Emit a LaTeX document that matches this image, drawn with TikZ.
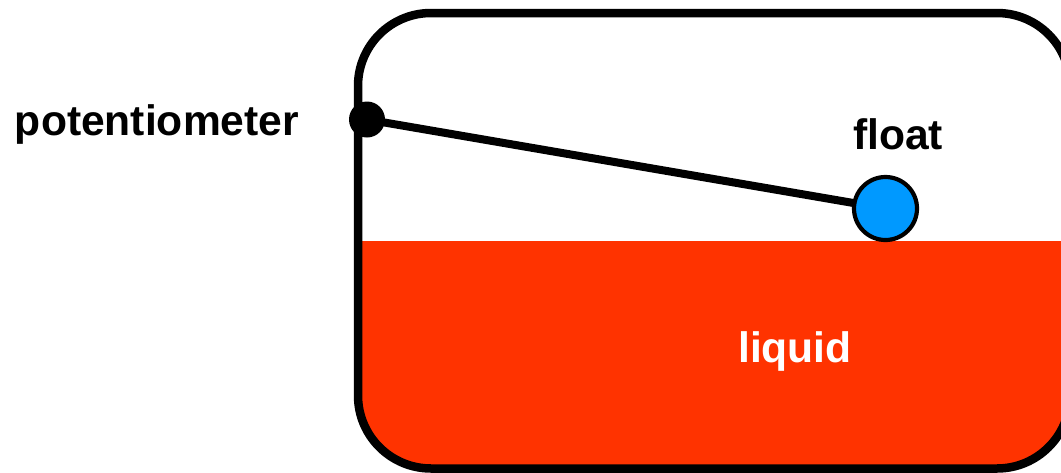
\documentclass[tikz,border=0pt]{standalone}
\usepackage{fontspec}
\setmainfont{Liberation Sans}
\definecolor{liquidred}{HTML}{FF3300}
\definecolor{floatblue}{HTML}{0099FF}
\tikzset{
  lbl/.style={inner sep=0pt,anchor=base,font=\fontsize{42.6}{48}\selectfont\bfseries},
  tankline/.style={draw=black,line width=8.5pt},
}
\begin{document}
\begin{tikzpicture}[x=1pt,y=-1pt]
\useasboundingbox (0,0) rectangle (1061,472);
\begin{scope}
\clip (0,0) rectangle (1061,472);
% liquid
\begin{scope}
\clip (0,241) rectangle (1100,480);
\fill[liquidred] (358,13) [rounded corners=73pt] -- (358,468.5) -- (1070,468.5) -- (1070,13) -- cycle;
\end{scope}
% tank
\draw[tankline,rounded corners=73pt] (358,240) -- (358,13) -- (1070,13) -- (1070,468.5) -- (358,468.5) -- cycle;
% parts
\node[circle,fill=black,minimum size=36pt,inner sep=0pt] (pivot) at (367,119.5) {};
\node[circle,draw=black,line width=4.2pt,fill=floatblue,minimum size=63pt,inner sep=0pt,outer sep=0pt] (floatball) at (885.5,208.5) {};
\draw[line width=8pt] (pivot.center) -- (floatball);
\end{scope}
\node[lbl] (pot) at (157,135) {potentiometer};
\node[lbl] (flt) at (898,149) {float};
\node[lbl,text=white] (liq) at (795,362) {liquid};
\end{tikzpicture}
\end{document}
